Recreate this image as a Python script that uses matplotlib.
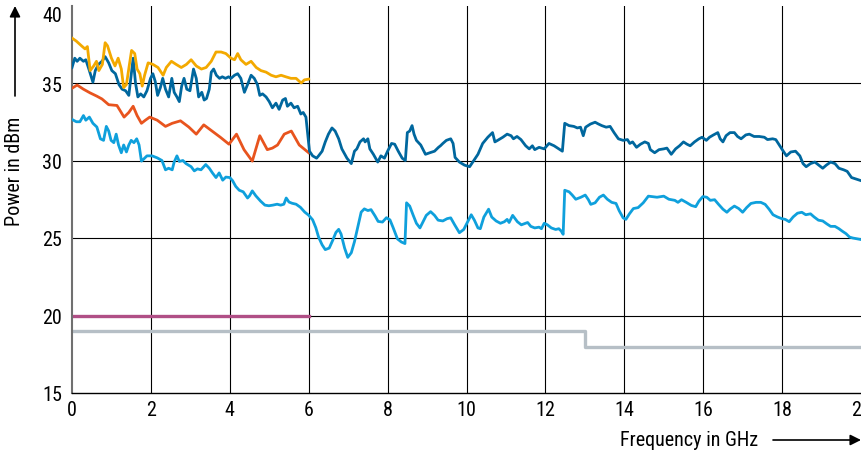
import matplotlib
matplotlib.use("Agg")
import matplotlib.pyplot as plt

plt.rcParams['font.family'] = ['Roboto Condensed', 'Archivo Narrow', 'DejaVu Sans']

orange_f = [0, 0.11, 0.24, 0.33, 0.39, 0.46, 0.55, 0.62, 0.68, 0.77, 0.84, 0.9, 1.0, 1.09,
            1.17, 1.25, 1.31, 1.38, 1.45, 1.51, 1.59, 1.65, 1.72, 1.78, 1.84, 1.93, 2.05,
            2.18, 2.31, 2.39, 2.52, 2.64, 2.77, 2.9, 3.02, 3.15, 3.28, 3.4, 3.53, 3.65,
            3.78, 3.9, 4.03, 4.12, 4.2, 4.28, 4.41, 4.54, 4.67, 4.79, 4.92, 5.05, 5.17,
            5.3, 5.42, 5.55, 5.68, 5.81, 5.89, 6.0]
orange_p = [37.9, 37.7, 37.4, 37.2, 37.35, 35.8, 36.1, 36.4, 35.8, 36.2, 37.6, 37.4, 36.6, 36.1,
            36.6, 35.9, 34.7, 34.9, 36.1, 37.1, 36.9, 35.9, 35.6, 34.8, 35.5, 36.3, 36.2,
            36.0, 35.5, 36.0, 36.4, 36.2, 36.0, 36.2, 36.5, 36.1, 35.9, 36.0, 36.4, 37.0,
            37.0, 36.9, 36.6, 36.5, 36.9, 36.5, 36.2, 36.4, 36.0, 35.8, 35.7, 35.5, 35.4,
            35.5, 35.4, 35.3, 35.3, 35.0, 35.2, 35.25]

red_f = [0, 0.13, 0.29, 0.46, 0.63, 0.76, 0.93, 1.14, 1.32, 1.44, 1.55, 1.65, 1.76, 1.86,
         1.97, 2.16, 2.37, 2.54, 2.75, 2.96, 3.15, 3.34, 3.55, 3.76, 3.98, 4.17, 4.36,
         4.57, 4.76, 4.95, 5.08, 5.21, 5.38, 5.56, 5.76, 6.0]
red_p = [34.66, 34.87, 34.6, 34.36, 34.15, 33.97, 33.6, 33.55, 32.8, 33.1, 33.5, 32.9, 32.4, 32.6,
         32.8, 32.6, 32.2, 32.4, 32.56, 32.16, 31.7, 32.3, 31.9, 31.5, 31.05, 31.7, 30.7,
         29.96, 31.6, 30.7, 30.8, 31.0, 31.7, 31.9, 31.0, 30.5]

dark_f = [0, 0.07, 0.13, 0.2, 0.29, 0.35, 0.44, 0.53, 0.59, 0.67, 0.76, 0.84, 0.93, 1.01,
          1.1, 1.19, 1.27, 1.36, 1.44, 1.5, 1.55, 1.61, 1.67, 1.74, 1.82, 1.9, 1.99, 2.05,
          2.11, 2.17, 2.24, 2.3, 2.37, 2.45, 2.53, 2.59, 2.66, 2.72, 2.78, 2.84, 2.91, 2.99,
          3.08, 3.15, 3.21, 3.29, 3.35, 3.41, 3.48, 3.53, 3.59, 3.66, 3.74, 3.81, 3.89,
          3.97, 4.03, 4.12, 4.2, 4.28, 4.37, 4.45, 4.54, 4.62, 4.7, 4.76, 4.83, 4.92, 5.0,
          5.08, 5.17, 5.25, 5.34, 5.41, 5.46, 5.55, 5.63, 5.72, 5.8, 5.86, 5.93, 5.97, 6.02,
          6.1, 6.2, 6.25, 6.34, 6.42, 6.5, 6.59, 6.67, 6.76, 6.84, 6.97, 7.08, 7.16, 7.22,
          7.3, 7.39, 7.43, 7.5, 7.55, 7.64, 7.75, 7.83, 7.92, 8.0, 8.1, 8.18, 8.27, 8.37,
          8.45, 8.5, 8.56, 8.62, 8.67, 8.73, 8.84, 8.92, 8.96, 9.07, 9.19, 9.29, 9.34, 9.4,
          9.49, 9.6, 9.66, 9.71, 9.82, 9.95, 10.08, 10.16, 10.29, 10.41, 10.54, 10.66,
          10.72, 10.79, 10.92, 11.03, 11.13, 11.19, 11.28, 11.38, 11.5, 11.59, 11.67,
          11.73, 11.84, 11.97, 12.09, 12.22, 12.34, 12.43, 12.49, 12.6, 12.72, 12.81,
          12.89, 12.96, 13.02, 13.14, 13.26, 13.34, 13.43, 13.54, 13.64, 13.74, 13.85,
          13.97, 14.08, 14.14, 14.21, 14.31, 14.41, 14.52, 14.61, 14.66, 14.77, 14.88,
          15.0, 15.08, 15.19, 15.3, 15.4, 15.5, 15.59, 15.67, 15.78, 15.89, 15.97, 16.08,
          16.16, 16.26, 16.37, 16.43, 16.5, 16.58, 16.68, 16.79, 16.87, 16.96, 17.08,
          17.17, 17.29, 17.42, 17.55, 17.63, 17.76, 17.84, 17.94, 18.03, 18.11, 18.22,
          18.34, 18.45, 18.53, 18.61, 18.72, 18.83, 18.93, 19.03, 19.12, 19.23, 19.34,
          19.44, 19.56, 19.65, 19.76, 20.0]
dark_p = [36.0, 36.6, 36.4, 36.6, 36.4, 36.5, 35.8, 35.05, 35.8, 36.2, 36.4, 36.7, 36.3, 35.8,
          35.6, 34.9, 34.6, 34.5, 34.2, 35.5, 36.6, 35.0, 34.1, 34.3, 34.1, 34.5, 35.3, 35.6,
          35.1, 34.2, 34.7, 35.3, 34.6, 34.1, 35.3, 34.4, 34.1, 33.8, 34.8, 35.3, 34.6, 34.5,
          35.9, 35.3, 34.1, 34.4, 33.9, 34.0, 34.6, 35.7, 35.9, 35.5, 35.3, 35.4, 35.3,
          35.4, 35.3, 35.5, 35.6, 35.3, 34.4, 34.9, 35.5, 35.3, 34.9, 34.2, 34.3, 34.1, 33.8,
          33.4, 33.7, 33.3, 33.9, 34.0, 33.5, 33.7, 33.4, 33.5, 33.0, 33.1, 32.8, 31.8, 30.6,
          30.3, 30.15, 30.3, 30.6, 31.2, 31.7, 32.1, 31.9, 31.4, 30.75, 30.15, 29.8, 30.6, 30.75,
          31.2, 31.4, 31.2, 31.4, 30.75, 30.4, 29.9, 30.3, 30.15, 30.6, 31.1, 31.05, 30.6, 30.15,
          30.0, 31.8, 31.9, 32.25, 31.7, 31.3, 31.0, 30.6, 30.4, 30.5, 30.6, 30.85, 30.95, 31.1,
          31.3, 31.4, 31.1, 30.2, 29.9, 29.7, 29.6, 29.9, 30.4, 31.1, 31.5, 31.8,
          31.2, 31.3, 31.5, 31.7, 31.6, 31.4, 31.55, 31.35, 30.95, 30.75, 30.95,
          30.7, 30.85, 30.75, 31.1, 30.95, 30.75, 30.6, 32.4, 32.25, 32.2, 32.1,
          32.15, 31.6, 32.15, 32.35, 32.47, 32.36, 32.25, 32.15, 32.2, 31.8, 31.4,
          31.3, 31.35, 31.1, 31.2, 30.85, 31.05, 31.2, 31.1, 30.7, 30.5, 30.7,
          30.75, 30.8, 30.4, 30.75, 30.95, 31.2, 31.05, 30.95, 31.2, 31.4, 31.5, 31.3,
          31.5, 31.65, 31.8, 31.4, 31.2, 31.6, 31.8, 31.8, 31.55, 31.4, 31.65,
          31.7, 31.55, 31.55, 31.5, 31.35, 31.4, 31.35, 30.95, 30.6, 30.3, 30.55,
          30.6, 30.3, 29.8, 29.6, 29.8, 29.9, 29.7, 29.5, 29.7, 29.9, 29.8,
          29.5, 29.4, 29.3, 28.9, 28.7]

light_f = [0, 0.11, 0.2, 0.29, 0.35, 0.44, 0.53, 0.63, 0.72, 0.8, 0.87, 0.93, 0.99, 1.06,
           1.12, 1.18, 1.25, 1.31, 1.38, 1.44, 1.5, 1.57, 1.64, 1.7, 1.76, 1.82, 1.9, 2.03,
           2.16, 2.28, 2.37, 2.45, 2.54, 2.59, 2.66, 2.72, 2.81, 2.89, 3.02, 3.1, 3.18, 3.27,
           3.39, 3.48, 3.56, 3.65, 3.73, 3.82, 3.9, 4.0, 4.07, 4.15, 4.24, 4.34, 4.45, 4.5,
           4.57, 4.66, 4.78, 4.89, 4.99, 5.09, 5.2, 5.29, 5.37, 5.43, 5.5, 5.58, 5.68, 5.79,
           5.9, 6.0, 6.1, 6.18, 6.25, 6.34, 6.42, 6.52, 6.61, 6.69, 6.76, 6.82, 6.91, 6.99,
           7.08, 7.16, 7.24, 7.33, 7.41, 7.5, 7.58, 7.68, 7.76, 7.87, 7.97, 8.06, 8.14, 8.25,
           8.35, 8.44, 8.48, 8.56, 8.65, 8.73, 8.82, 8.9, 8.98, 9.09, 9.19, 9.28, 9.4, 9.51,
           9.6, 9.7, 9.82, 9.93, 10.03, 10.12, 10.2, 10.29, 10.35, 10.44, 10.56, 10.64, 10.75,
           10.86, 10.96, 11.03, 11.08, 11.17, 11.29, 11.39, 11.55, 11.63, 11.73, 11.84, 11.9,
           11.97, 12.05, 12.15, 12.26, 12.34, 12.4, 12.45, 12.49, 12.6, 12.68, 12.77, 12.9,
           13.01, 13.09, 13.15, 13.26, 13.37, 13.47, 13.57, 13.68, 13.79, 13.87, 13.97, 14.04,
           14.13, 14.23, 14.35, 14.48, 14.61, 14.71, 14.83, 15.0, 15.13, 15.28, 15.36, 15.45,
           15.57, 15.7, 15.81, 15.89, 15.99, 16.09, 16.18, 16.29, 16.39, 16.5, 16.6, 16.68,
           16.79, 16.9, 17.0, 17.1, 17.21, 17.34, 17.46, 17.57, 17.67, 17.77, 17.88, 17.99,
           18.08, 18.18, 18.28, 18.39, 18.5, 18.6, 18.72, 18.81, 18.92, 19.03, 19.14, 19.23,
           19.34, 19.44, 19.52, 19.62, 19.71, 19.79, 20.0]
light_p = [32.65, 32.5, 32.5, 32.9, 32.6, 32.8, 32.4, 32.16, 31.4, 31.3, 32.2, 31.9, 31.3, 31.15,
           31.7, 31.0, 30.5, 31.0, 30.55, 31.0, 31.3, 31.15, 31.4, 31.0, 29.96, 30.1, 30.3, 30.3,
           30.17, 30.0, 29.4, 29.5, 29.4, 29.9, 30.3, 29.94, 30.0, 29.8, 29.6, 29.33, 29.46, 29.4,
           29.74, 29.5, 29.2, 28.9, 29.2, 28.73, 28.93, 28.9, 28.7, 28.33, 28.08, 27.98, 27.58, 27.72,
           28.04, 27.72, 27.38, 27.12, 27.08, 27.12, 27.18, 27.12, 27.18, 27.58, 27.32, 27.24, 27.18, 26.98,
           26.67, 26.47, 26.17, 25.67, 25.06, 24.56, 24.25, 24.35, 24.86, 25.36, 25.56, 25.26, 24.35, 23.75,
           24.05, 24.76, 25.67, 26.67, 26.88, 26.77, 26.83, 26.43, 26.07, 26.03, 26.31, 26.17, 25.67, 24.94,
           24.74, 24.64, 27.27, 27.06, 26.46, 25.95, 25.65, 26.05, 26.46, 26.7, 26.46, 26.15, 26.1, 26.25,
           26.3, 25.85, 25.34, 25.55, 26.05, 26.5, 26.15, 25.65, 25.6, 26.35, 26.86, 26.35, 26.1,
           25.95, 26.05, 26.2, 26.0, 26.46, 26.05, 25.85, 26.0, 25.75, 25.65, 25.7, 25.6,
           25.95, 25.85, 25.65, 25.55, 25.6, 25.45, 25.24, 28.08, 27.98, 27.77, 27.5, 27.63,
           27.77, 27.47, 27.17, 27.27, 27.63, 27.77, 27.5, 27.3, 27.23, 26.76, 26.3, 26.2,
           26.56, 26.9, 26.96, 27.27, 27.7, 27.67, 27.63, 27.7, 27.5, 27.43, 27.3, 27.47,
           27.3, 27.1, 27.02, 27.37, 27.67, 27.63, 27.43, 27.47, 27.17, 26.86, 26.66, 26.86,
           27.06, 26.9, 26.66, 26.96, 27.23, 27.3, 27.3, 27.17, 26.86, 26.5, 26.36, 26.25,
           26.2, 26.05, 26.36, 26.6, 26.66, 26.5, 26.56, 26.36, 26.15, 26.1, 25.9, 25.75,
           25.75, 25.6, 25.45, 25.28, 25.06, 25.0, 24.9]

# specification limits
spec6_f = [0, 6]
spec6_p = [20, 20]
spec20_f = [0, 13, 20]
spec20_p = [19, 18, 18]

fig = plt.figure(figsize=(8.61, 4.56), dpi=100)
ax = fig.add_axes([72 / 861, 1 - 394 / 456, 789 / 861, 387.5 / 456])

for x in range(2, 20, 2):
    ax.axvline(x, color='black', lw=0.8, zorder=1)
for y in range(20, 40, 5):
    ax.axhline(y, color='black', lw=0.8, zorder=1)

ax.step(spec20_f, spec20_p, where='post', color='#b6bfc6', lw=2.4, zorder=2)
ax.plot(spec6_f, spec6_p, color='#b04f86', lw=2.4, zorder=2)
ax.plot(light_f, light_p, color='#0fa0dc', lw=2.0, zorder=3)
ax.plot(red_f, red_p, color='#e8541e', lw=2.0, zorder=3)
ax.plot(dark_f, dark_p, color='#00679e', lw=2.0, zorder=4)
ax.plot(orange_f, orange_p, color='#f3a900', lw=2.0, zorder=5)

ax.set_xlim(0, 20)
ax.set_ylim(15, 40)
ax.set_xticks(range(0, 21, 2))
ax.set_yticks(range(15, 41, 5))
ax.tick_params(length=0, labelsize=14.5)
ax.tick_params(axis='x', pad=5)
ax.tick_params(axis='y', pad=7)
ax.get_yticklabels()[-1].set_va('top')

for s in ['top', 'right']:
    ax.spines[s].set_visible(False)
ax.spines['left'].set_color('#707070')
ax.spines['left'].set_linewidth(1.5)
ax.spines['bottom'].set_linewidth(1.0)

# axis titles with arrows
fig.text(15 / 861, 1 - 171 / 456, 'Power in dBm', rotation=90, ha='center', va='center', fontsize=14.5)
fig.text(689 / 861, 1 - 441 / 456, 'Frequency in GHz', ha='center', va='center', fontsize=14.5)
fig.add_artist(matplotlib.patches.FancyArrowPatch((15 / 861, 1 - 97 / 456), (15 / 861, 1 - 7 / 456),
               transform=fig.transFigure, arrowstyle='-|>', mutation_scale=16, color='black', lw=1.2,
               shrinkA=0, shrinkB=0))
fig.add_artist(matplotlib.patches.FancyArrowPatch((773 / 861, 1 - 441 / 456), (861 / 861, 1 - 441 / 456),
               transform=fig.transFigure, arrowstyle='-|>', mutation_scale=16, color='black', lw=1.2,
               shrinkA=0, shrinkB=0))

fig.savefig('out.png', dpi=100)
